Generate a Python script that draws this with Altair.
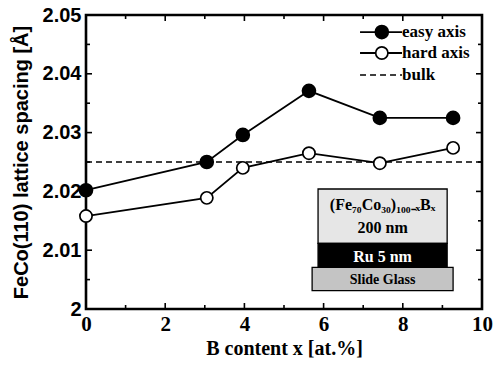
import altair as alt
import pandas as pd

# B content (at.%) and measured FeCo(110) lattice spacings (Å)
b_content = [0.0, 3.05, 3.96, 5.63, 7.42, 9.27]
easy_axis = [2.0202, 2.0250, 2.0296, 2.0371, 2.0325, 2.0325]
hard_axis = [2.0158, 2.0189, 2.0240, 2.0265, 2.0248, 2.0274]
bulk_spacing = 2.025

# axis ranges and tick values
x_domain = [0, 10]
y_domain = [2.00, 2.05]
x_major = [0, 2, 4, 6, 8, 10]
x_minor = [1, 3, 5, 7, 9]
y_major = [2.00, 2.01, 2.02, 2.03, 2.04, 2.05]
y_minor = [2.005, 2.015, 2.025, 2.035, 2.045]

# legend entries (label, row height in data units)
legend_labels = ["easy axis", "hard axis", "bulk"]
legend_rows = [2.0471, 2.04354, 2.0398]
legend_line_x = [6.92, 7.98]
legend_marker_x = 7.47

# sample stack sketch: layer boxes and their captions
stack_layers = ["film", "Ru", "glass"]
stack_x0 = [5.86, 5.86, 5.71]
stack_x1 = [9.12, 9.12, 9.27]
stack_y0 = [2.01117, 2.00709, 2.00311]
stack_y1 = [2.02041, 2.01117, 2.00709]
stack_fill = ["#e6e6e6", "#000000", "#c4c4c4"]
stack_text = ["(Fe₇₀Co₃₀)₁₀₀₋ₓBₓ", "200 nm", "Ru 5 nm", "Slide Glass"]
stack_text_y = [2.01763, 2.01378, 2.00884, 2.00493]
stack_text_color = ["black", "black", "white", "black"]
stack_text_size = [16, 16, 16, 14]
stack_center_x = 7.49

SERIF = "Liberation Serif"
SANS = "Liberation Sans"
W, H = 396, 294
LINE_W = 1.8

data = pd.DataFrame({
    "x": b_content * 2,
    "y": easy_axis + hard_axis,
    "series": ["easy axis"] * len(b_content) + ["hard axis"] * len(b_content),
})
easy = data[data.series == "easy axis"]
hard = data[data.series == "hard axis"]

xs = alt.Scale(domain=x_domain, nice=False, zero=False)
ys = alt.Scale(domain=y_domain, nice=False, zero=False)

x_label_axis = alt.Axis(
    values=x_major, orient="bottom", format="d", ticks=False, domain=False,
    grid=False, labelFlush=False, labelFont=SERIF, labelFontWeight="bold",
    labelFontSize=21, labelColor="black", labelPadding=4,
    title="B content x [at.%]", titleFont=SERIF, titleFontWeight="bold",
    titleFontSize=20, titleColor="black", titlePadding=4,
)
y_label_axis = alt.Axis(
    values=y_major, orient="left", ticks=False, domain=False, grid=False,
    labelFlush=False,
    labelExpr="datum.value == 2 ? '2' : format(datum.value, '.2f')",
    labelFont=SANS, labelFontWeight="bold", labelFontSize=20,
    labelColor="black", labelPadding=5,
    title="FeCo(110) lattice spacing [Å]", titleFont=SANS,
    titleFontWeight="bold", titleFontSize=20, titleColor="black",
    titleAngle=-90, titleX=-65, titleY=147, titleAlign="center",
    titleBaseline="middle",
)


# every layer carries the same axis definition so the shared axes merge cleanly
def X(field="x"):
    return alt.X(f"{field}:Q", scale=xs, axis=x_label_axis)


def Y(field="y"):
    return alt.Y(f"{field}:Q", scale=ys, axis=y_label_axis)


# inward tick marks on all four sides of the frame
def x_ticks(values, size, at_top):
    pos = size / 2 if at_top else H - size / 2
    return alt.Chart(pd.DataFrame({"v": values})).mark_tick(
        orient="vertical", size=size, thickness=1.6, color="black", opacity=1
    ).encode(x=X("v"), y=alt.value(pos))


def y_ticks(values, size, at_right):
    pos = W - size / 2 if at_right else size / 2
    return alt.Chart(pd.DataFrame({"v": values})).mark_tick(
        orient="horizontal", size=size, thickness=1.6, color="black", opacity=1
    ).encode(y=Y("v"), x=alt.value(pos))


ticks = [
    x_ticks(x_major, 6, False), x_ticks(x_minor, 4, False),
    x_ticks(x_major, 6, True), x_ticks(x_minor, 4, True),
    y_ticks(y_major, 6, False), y_ticks(y_minor, 4, False),
    y_ticks(y_major, 6, True), y_ticks(y_minor, 4, True),
]

bulk = alt.Chart(pd.DataFrame({"x": [x_domain[0]], "x2": [x_domain[1]], "y": [bulk_spacing]})).mark_rule(
    color="black", strokeWidth=1.5, strokeDash=[6, 4]
).encode(x=X(), x2="x2:Q", y=Y())

hard_line = alt.Chart(hard).mark_line(color="black", strokeWidth=LINE_W).encode(x=X(), y=Y())
hard_pts = alt.Chart(hard).mark_point(
    filled=True, fill="white", stroke="black", strokeWidth=1.7, size=150, opacity=1
).encode(x=X(), y=Y())

easy_line = alt.Chart(easy).mark_line(color="black", strokeWidth=LINE_W).encode(x=X(), y=Y())
easy_pts = alt.Chart(easy).mark_point(
    filled=True, fill="black", stroke="black", size=160, opacity=1
).encode(x=X(), y=Y())

# hand-made legend
leg = pd.DataFrame({
    "label": legend_labels,
    "y": legend_rows,
    "x0": [legend_line_x[0]] * 3,
    "x1": [legend_line_x[1]] * 3,
    "xm": [legend_marker_x] * 3,
})
leg_solid = alt.Chart(leg[leg.label != "bulk"]).mark_rule(color="black", strokeWidth=LINE_W).encode(
    x=X("x0"), x2="x1:Q", y=Y())
leg_dash = alt.Chart(leg[leg.label == "bulk"]).mark_rule(
    color="black", strokeWidth=1.5, strokeDash=[6, 4]).encode(
    x=X("x0"), x2="x1:Q", y=Y())
leg_easy = alt.Chart(leg[leg.label == "easy axis"]).mark_point(
    filled=True, fill="black", stroke="black", size=160, opacity=1).encode(
    x=X("xm"), y=Y())
leg_hard = alt.Chart(leg[leg.label == "hard axis"]).mark_point(
    filled=True, fill="white", stroke="black", strokeWidth=1.7, size=150, opacity=1).encode(
    x=X("xm"), y=Y())
leg_text = alt.Chart(leg).mark_text(
    align="left", baseline="middle", font=SERIF, fontWeight="bold", fontSize=17,
    color="black", dx=0).encode(x=X("x1"), y=Y(), text="label:N")

# sample stack sketch
stack = pd.DataFrame({
    "layer": stack_layers, "x0": stack_x0, "x1": stack_x1,
    "y0": stack_y0, "y1": stack_y1, "fill": stack_fill,
})
stack_rects = alt.Chart(stack).mark_rect(stroke="black", strokeWidth=1.3).encode(
    x=X("x0"), x2="x1:Q", y=Y("y0"), y2="y1:Q",
    fill=alt.Fill("fill:N", scale=None))
captions = pd.DataFrame({
    "text": stack_text, "y": stack_text_y, "x": [stack_center_x] * 4,
    "color": stack_text_color, "size": stack_text_size,
})
stack_caps = alt.Chart(captions).mark_text(
    align="center", baseline="middle", font=SERIF, fontWeight="bold").encode(
    x=X(), y=Y(), text="text:N",
    color=alt.Color("color:N", scale=None),
    size=alt.Size("size:Q", scale=None))

chart = alt.layer(
    hard_line, *ticks, bulk, easy_line, hard_pts, easy_pts,
    stack_rects, stack_caps,
    leg_solid, leg_dash, leg_easy, leg_hard, leg_text,
).properties(
    width=W, height=H, autosize="none",
    padding={"left": 86, "top": 15, "right": 12, "bottom": 60},
    background="white",
).configure_view(stroke="black", strokeWidth=2.6)

chart.save("out.html", embed_options={"renderer": "svg", "actions": False})
